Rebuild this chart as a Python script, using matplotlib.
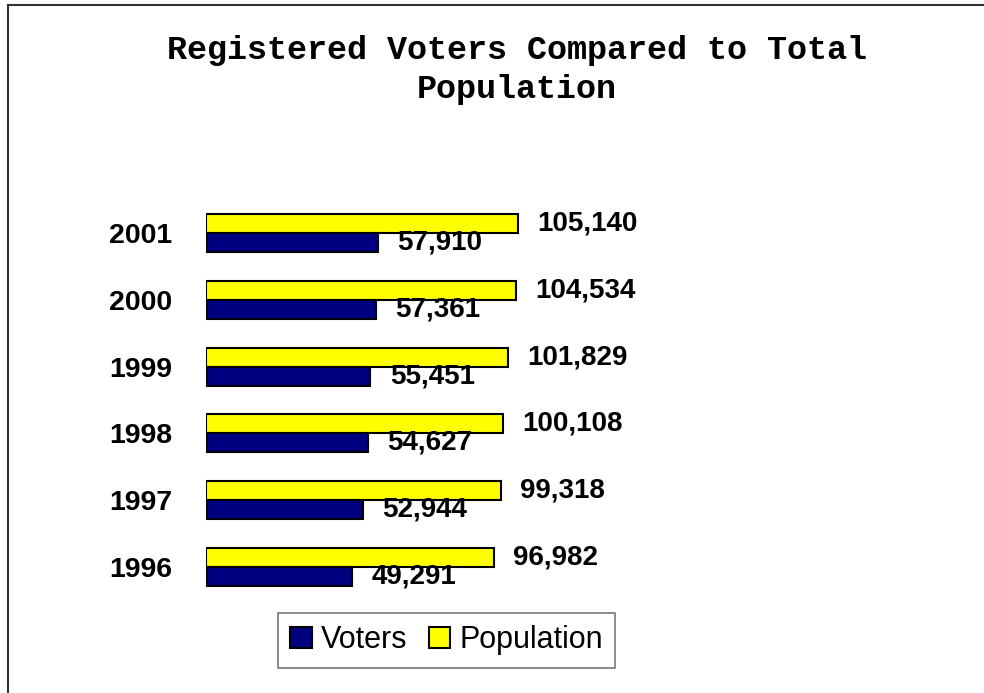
import numpy as np
from matplotlib import pyplot as plt
from matplotlib.lines import Line2D

years = ["1996", "1997", "1998", "1999", "2000", "2001"]
voters = [49291, 52944, 54627, 55451, 57361, 57910]
population = [96982, 99318, 100108, 101829, 104534, 105140]

plt.rcParams['font.family'] = ['Liberation Sans', 'DejaVu Sans']

fig = plt.figure(figsize=(9.84, 6.93), dpi=100)
ax = fig.add_axes([0.2093, 0.1336, 0.4522, 0.5784])

y = np.arange(len(years))
h = 0.285

# 人口在上，选民在下
ax.barh(y + h / 2, population, h, color='#FFFF00', edgecolor='black',
        linewidth=1.5, label='Population')
ax.barh(y - h / 2, voters, h, color='#000080', edgecolor='black',
        linewidth=1.5, label='Voters')

for yi, v in zip(y, population):
    ax.annotate(f"{v:,}", (v, yi + h / 2), xytext=(14, 0), textcoords='offset points',
                ha='left', va='center', fontsize=20, fontweight='bold',
                annotation_clip=False)
for yi, v in zip(y, voters):
    ax.annotate(f"{v:,}", (v, yi - h / 2), xytext=(14, 0), textcoords='offset points',
                ha='left', va='center', fontsize=20, fontweight='bold',
                annotation_clip=False)

ax.set_xlim(0, 150000)
ax.set_ylim(-0.5, 5.5)
ax.set_yticks(y)
ax.set_yticklabels(years, fontsize=20.5, fontweight='bold')
ax.tick_params(axis='y', length=0, pad=24)
ax.set_xticks([])
for s in ax.spines.values():
    s.set_visible(False)

fig.text(0.525, 1 - 70 / 693, "Registered Voters Compared to Total\nPopulation",
         ha='center', va='center', fontsize=24, fontweight='bold',
         family=['Liberation Mono', 'DejaVu Sans Mono'], linespacing=1.3)

handles, labels = ax.get_legend_handles_labels()
leg = fig.legend(handles[::-1], labels[::-1], loc='center',
                 bbox_to_anchor=(0.4538, 0.0758), ncol=2, fontsize=22,
                 frameon=True, fancybox=False, handlelength=0.7, handleheight=0.7,
                 handletextpad=0.3, columnspacing=0.7, borderpad=0.4)
leg.get_frame().set_edgecolor('#555555')
leg.get_frame().set_linewidth(1.2)

# 外框（上边和左边）
fig.add_artist(Line2D([8 / 984, 1.0], [1 - 5 / 693, 1 - 5 / 693], color='#333333', linewidth=1.5))
fig.add_artist(Line2D([8 / 984, 8 / 984], [0.0, 1 - 5 / 693], color='#333333', linewidth=1.5))

fig.savefig("out.png", dpi=100)
